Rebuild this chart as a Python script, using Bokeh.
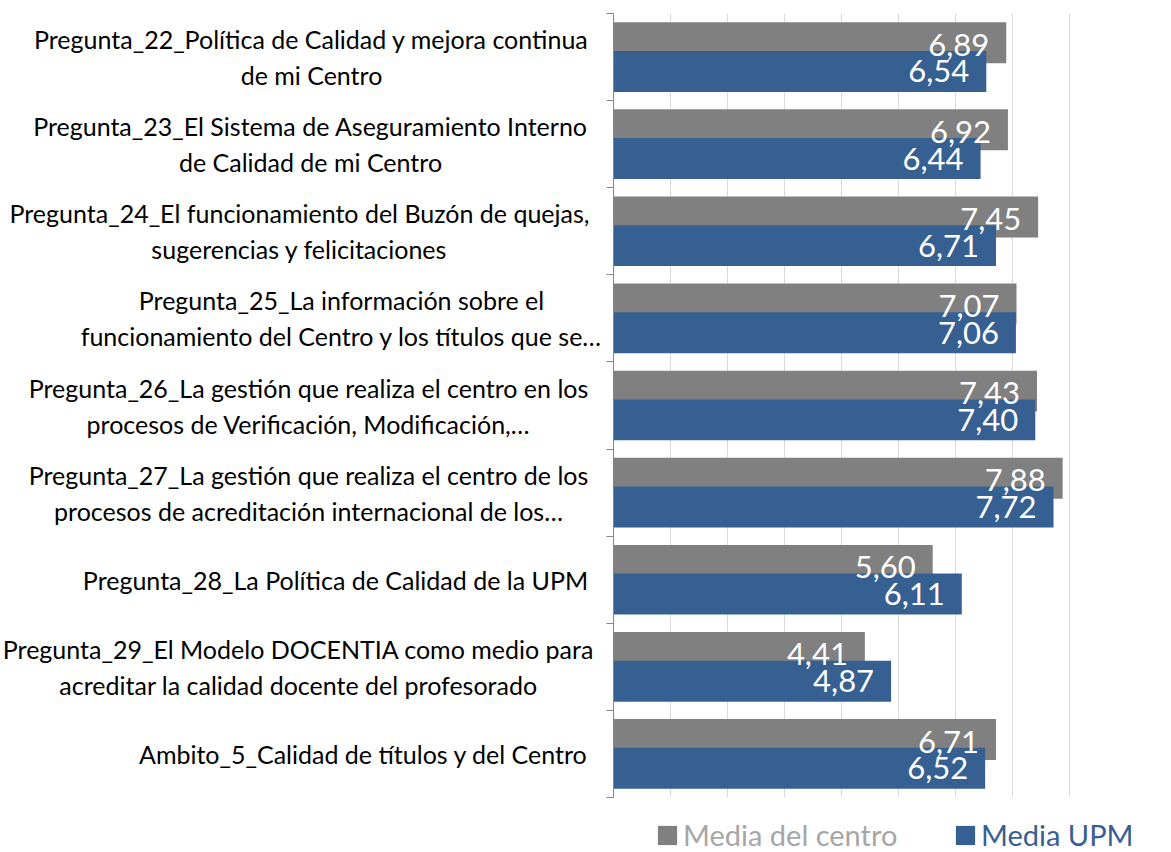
from bokeh.plotting import figure
from bokeh.layouts import row, column
from bokeh.models import (Range1d, FixedTicker, LinearAxis, Legend, LegendItem,
                          ColumnDataSource, Grid)
from bokeh.core.properties import value
from bokeh.embed import file_html
from bokeh.resources import INLINE

# ---------------- data ----------------
categories = [
    "Pregunta_22_Política de Calidad y mejora continua\nde mi Centro",
    "Pregunta_23_El Sistema de Aseguramiento Interno\nde Calidad de mi Centro",
    "Pregunta_24_El funcionamiento del Buzón de quejas,\nsugerencias y felicitaciones",
    "Pregunta_25_La información sobre el\nfuncionamiento del Centro y los títulos que se…",
    "Pregunta_26_La gestión que realiza el centro en los\nprocesos de Verificación, Modificación,…",
    "Pregunta_27_La gestión que realiza el centro de los\nprocesos de acreditación internacional de los…",
    "Pregunta_28_La Política de Calidad de la UPM",
    "Pregunta_29_El Modelo DOCENTIA como medio para\nacreditar la calidad docente del profesorado",
    "Ambito_5_Calidad de títulos y del Centro",
]
media_centro = [6.89, 6.92, 7.45, 7.07, 7.43, 7.88, 5.60, 4.41, 6.71]
media_upm = [6.54, 6.44, 6.71, 7.06, 7.40, 7.72, 6.11, 4.87, 6.52]
series_names = ["Media del centro", "Media UPM"]

# ---------------- layout / style ----------------
W = 1171
TOP_H = 800               # height of the chart row
TOP, BOTTOM = 13, 3
LEG_H = 52
LW = 603                  # width of the label panel
AXIS_PAD = 10             # room for the y axis ticks
PLOT_W = 513              # 0..9
RW = W - LW
GRAY = "#808080"
BLUE = "#376092"
FONT = "Lato"
label_centers = [311, 310, 299, 341, 308, 308, 335, 298, 363]

n = len(categories)
cat_y = [i + 0.5 for i in range(n)]
off = 0.165
bar_h = 0.47

# ---------------- label panel ----------------
left = figure(width=LW, height=TOP_H, x_range=Range1d(0, LW), y_range=Range1d(n, 0),
              output_backend="svg", toolbar_location=None,
              x_axis_type=None, y_axis_type=None,
              min_border_left=0, min_border_right=0,
              min_border_top=TOP, min_border_bottom=BOTTOM)
left.outline_line_color = None
left.text(x=label_centers, y=cat_y, text=categories, text_align="center",
          text_baseline="middle", text_font=value(FONT), text_font_size="25px",
          text_line_height=1.2, text_color="#000000")

# ---------------- chart panel ----------------
p = figure(width=RW, height=TOP_H, x_range=Range1d(0, 9), y_range=Range1d(n, 0),
           output_backend="svg", toolbar_location=None,
           x_axis_type=None, y_axis_type=None,
           min_border_left=AXIS_PAD, min_border_right=RW - AXIS_PAD - PLOT_W,
           min_border_top=TOP, min_border_bottom=BOTTOM)
p.outline_line_color = None

p.add_layout(Grid(dimension=0, ticker=FixedTicker(ticks=list(range(1, 10))),
                  grid_line_color="#d9d9d9", grid_line_width=1), "center")

ticks = list(range(n + 1))
yax = LinearAxis(ticker=FixedTicker(ticks=ticks),
                 major_label_overrides={t: "" for t in ticks},
                 major_label_text_color=None, major_label_standoff=0,
                 major_tick_in=0, major_tick_out=7,
                 axis_line_color="#868686", major_tick_line_color="#868686",
                 minor_tick_line_color=None)
p.add_layout(yax, "left")

fmt = lambda v: f"{v:.2f}".replace(".", ",")
src_c = ColumnDataSource(dict(y=[y - off for y in cat_y], v=media_centro,
                              lbl=[fmt(v) for v in media_centro]))
src_u = ColumnDataSource(dict(y=[y + off for y in cat_y], v=media_upm,
                              lbl=[fmt(v) for v in media_upm]))

p.hbar(y="y", left=0, right="v", height=bar_h, source=src_c,
       fill_color=GRAY, line_color=None)
p.hbar(y="y", left=0, right="v", height=bar_h, source=src_u,
       fill_color=BLUE, line_color=None)

p.text(x="v", y="y", text="lbl", source=src_c, x_offset=-17, y_offset=2,
       text_align="right", text_baseline="middle", text_color="white",
       text_font=value(FONT), text_font_size="31px")
p.text(x="v", y="y", text="lbl", source=src_u, x_offset=-17, y_offset=0,
       text_align="right", text_baseline="middle", text_color="white",
       text_font=value(FONT), text_font_size="31px")

# ---------------- legend strip ----------------
leg = figure(width=W, height=LEG_H, x_range=Range1d(0, W), y_range=Range1d(0, LEG_H),
             output_backend="svg", toolbar_location=None,
             x_axis_type=None, y_axis_type=None,
             min_border_left=0, min_border_right=0, min_border_top=0, min_border_bottom=0)
leg.outline_line_color = None
# proxy glyphs (off-screen) that only feed the legend swatches
d_c = leg.hbar(y=[-100], right=[1], height=1, fill_color=GRAY, line_color=None)
d_u = leg.hbar(y=[-100], right=[1], height=1, fill_color=BLUE, line_color=None)

common = dict(border_line_color=None, background_fill_alpha=0, padding=0,
              margin=0, spacing=0, glyph_width=24, glyph_height=24,
              label_standoff=4, label_text_font=FONT, label_text_font_size="29px",
              label_text_baseline="middle")
leg1 = Legend(items=[LegendItem(label=series_names[0], renderers=[d_c])],
              location=(655, 0), label_text_color="#a6a6a6", **common)
leg2 = Legend(items=[LegendItem(label=series_names[1], renderers=[d_u])],
              location=(953, 0), label_text_color=BLUE, **common)
leg.add_layout(leg1, "center")
leg.add_layout(leg2, "center")

layout = column(row(left, p, spacing=0), leg, spacing=0)
open("out.html", "w").write(file_html(layout, INLINE))
